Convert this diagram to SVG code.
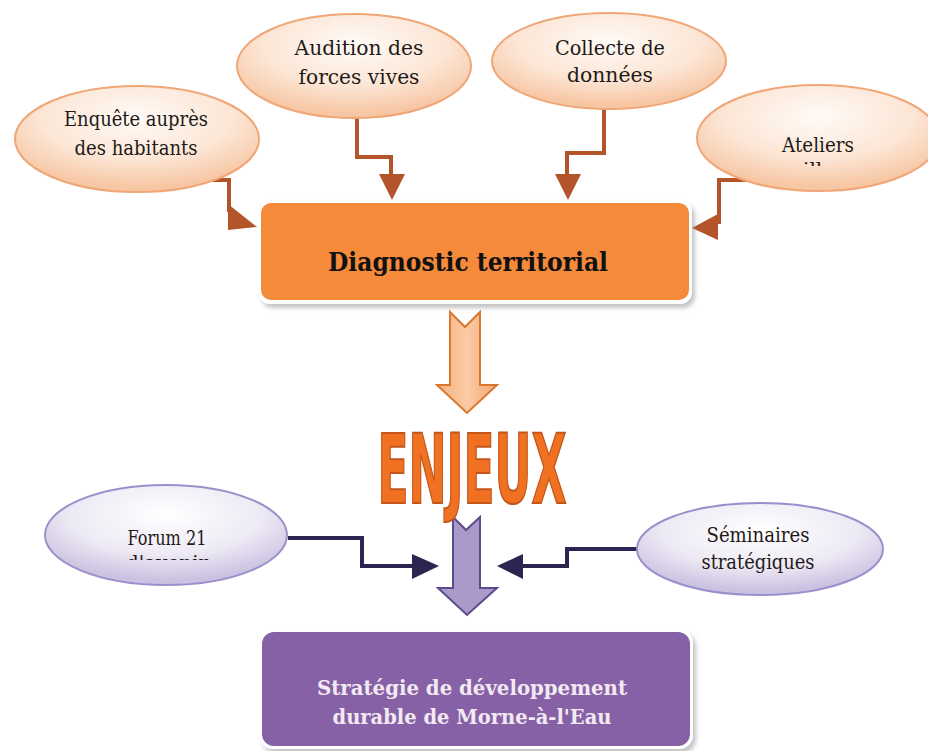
<svg xmlns="http://www.w3.org/2000/svg" width="928" height="751" viewBox="0 0 928 751">
<style>
.lbl{font-family:"DejaVu Serif","Liberation Serif",serif;font-size:20px;fill:#1f1a17;text-anchor:middle}
.big{font-family:"DejaVu Serif","Liberation Serif",serif;font-weight:bold;text-anchor:middle}
.oc{fill:none;stroke:#B4542A;stroke-width:4}
.oh{fill:#B4542A}
.pc{fill:none;stroke:#2E2450;stroke-width:4}
.ph{fill:#2E2450}
.oe{fill:url(#og);stroke:#F0A676;stroke-width:2}
.pe{fill:url(#pg);stroke:#9C90CC;stroke-width:2}
</style>
<defs>
<radialGradient id="og" cx="50%" cy="30%" r="65%">
<stop offset="0" stop-color="#FFFAF6"/><stop offset="0.6" stop-color="#FCE6D6"/><stop offset="1" stop-color="#F7C7A4"/>
</radialGradient>
<radialGradient id="pg" cx="50%" cy="30%" r="65%">
<stop offset="0" stop-color="#FFFFFF"/><stop offset="0.6" stop-color="#EEEAF5"/><stop offset="1" stop-color="#CBC2E1"/>
</radialGradient>
<linearGradient id="oa" x1="0" x2="1" y1="0" y2="0">
<stop offset="0" stop-color="#F7B07E"/><stop offset="0.5" stop-color="#FBCBA5"/><stop offset="1" stop-color="#F5A670"/>
</linearGradient>
<clipPath id="c1"><rect x="700" y="150" width="228" height="16"/></clipPath>
<clipPath id="c2"><rect x="60" y="548" width="220" height="12"/></clipPath>
<filter id="sh" x="-10%" y="-10%" width="130%" height="130%"><feDropShadow dx="3" dy="4" stdDeviation="2" flood-color="#888" flood-opacity="0.5"/></filter>
</defs>

<g id="connectors">
<polyline class="oc" points="200,180 229,180 229,212"/>
<polygon class="oh" points="228,204 228,230 257,227"/>
<polyline class="oc" points="357,118 357,157 391,157 391,176"/>
<polygon class="oh" points="379,174 405,174 392,200"/>
<polyline class="oc" points="604,108 604,153 567,153 567,176"/>
<polygon class="oh" points="555,174 581,174 568,200"/>
<polyline class="oc" points="756,180 719,180 719,224"/>
<polygon class="oh" points="718,214 718,240 692,228"/>
<polygon points="450,312 465,327 480,312 480,385 497,385 467,413 437,385 450,385" fill="url(#oa)" stroke="#D9772F" stroke-width="2"/>
<polygon points="453,517 466,530 480,517 480,588 497,588 467,615 438,588 453,588" fill="#A99AC9" stroke="#5D4A8B" stroke-width="2"/>
<polyline class="pc" points="288,538 362,538 362,566 414,566"/>
<polygon class="ph" points="412,554 412,579 439,566"/>
<polyline class="pc" points="637,549 567,549 567,566 521,566"/>
<polygon class="ph" points="523,554 523,579 497,566"/>
</g>

<g id="enquete">
<ellipse class="oe" cx="137" cy="139" rx="122" ry="53"/>
<text class="lbl" x="136" y="126" textLength="144" lengthAdjust="spacingAndGlyphs">Enquête auprès</text>
<text class="lbl" x="136" y="155" textLength="123" lengthAdjust="spacingAndGlyphs">des habitants</text>
</g>
<g id="audition">
<ellipse class="oe" cx="354" cy="66" rx="117" ry="52"/>
<text class="lbl" x="359" y="55" textLength="129" lengthAdjust="spacingAndGlyphs">Audition des</text>
<text class="lbl" x="359" y="84" textLength="121" lengthAdjust="spacingAndGlyphs">forces vives</text>
</g>
<g id="collecte">
<ellipse class="oe" cx="609" cy="61" rx="117" ry="48"/>
<text class="lbl" x="610" y="55" textLength="110" lengthAdjust="spacingAndGlyphs">Collecte de</text>
<text class="lbl" x="610" y="82" textLength="86" lengthAdjust="spacingAndGlyphs">données</text>
</g>
<g id="ateliers">
<ellipse class="oe" cx="818" cy="138" rx="121" ry="53"/>
<text class="lbl" x="818" y="152" textLength="72" lengthAdjust="spacingAndGlyphs">Ateliers</text>
<text class="lbl" x="818" y="177" clip-path="url(#c1)">villes</text>
</g>

<g id="diagnostic">
<rect x="258" y="200" width="434" height="104" rx="12" fill="#FFFFFF" filter="url(#sh)"/>
<rect x="261" y="203" width="428" height="97" rx="10" fill="#F58A3B"/>
<text class="big" x="468" y="271" font-size="26" fill="#111" textLength="280" lengthAdjust="spacingAndGlyphs">Diagnostic territorial</text>
</g>

<g id="enjeux">
<text x="472" y="503" font-family="'Liberation Sans Narrow','DejaVu Sans Condensed','Liberation Sans',sans-serif" font-weight="bold" font-size="96" fill="#F07122" stroke="#C4561A" stroke-width="2" text-anchor="middle" textLength="189" lengthAdjust="spacingAndGlyphs">ENJEUX</text>
</g>

<g id="forum">
<ellipse class="pe" cx="166" cy="535" rx="121" ry="50"/>
<text class="lbl" x="167" y="545" textLength="79" lengthAdjust="spacingAndGlyphs">Forum 21</text>
<text class="lbl" x="167" y="570" clip-path="url(#c2)">d'avenir</text>
</g>
<g id="seminaires">
<ellipse class="pe" cx="760" cy="549" rx="123" ry="46"/>
<text class="lbl" x="758" y="542" textLength="103" lengthAdjust="spacingAndGlyphs">Séminaires</text>
<text class="lbl" x="758" y="569" textLength="113" lengthAdjust="spacingAndGlyphs">stratégiques</text>
</g>

<g id="strategie">
<rect x="259" y="629" width="434" height="120" rx="14" fill="#FFFFFF" filter="url(#sh)"/>
<rect x="262" y="632" width="428" height="114" rx="12" fill="#8761A6"/>
<text class="big" x="472" y="695" font-size="21" fill="#F3E9F3" textLength="310" lengthAdjust="spacingAndGlyphs">Stratégie de développement</text>
<text class="big" x="472" y="724" font-size="21" fill="#F3E9F3" textLength="279" lengthAdjust="spacingAndGlyphs">durable de Morne-à-l'Eau</text>
</g>
</svg>
